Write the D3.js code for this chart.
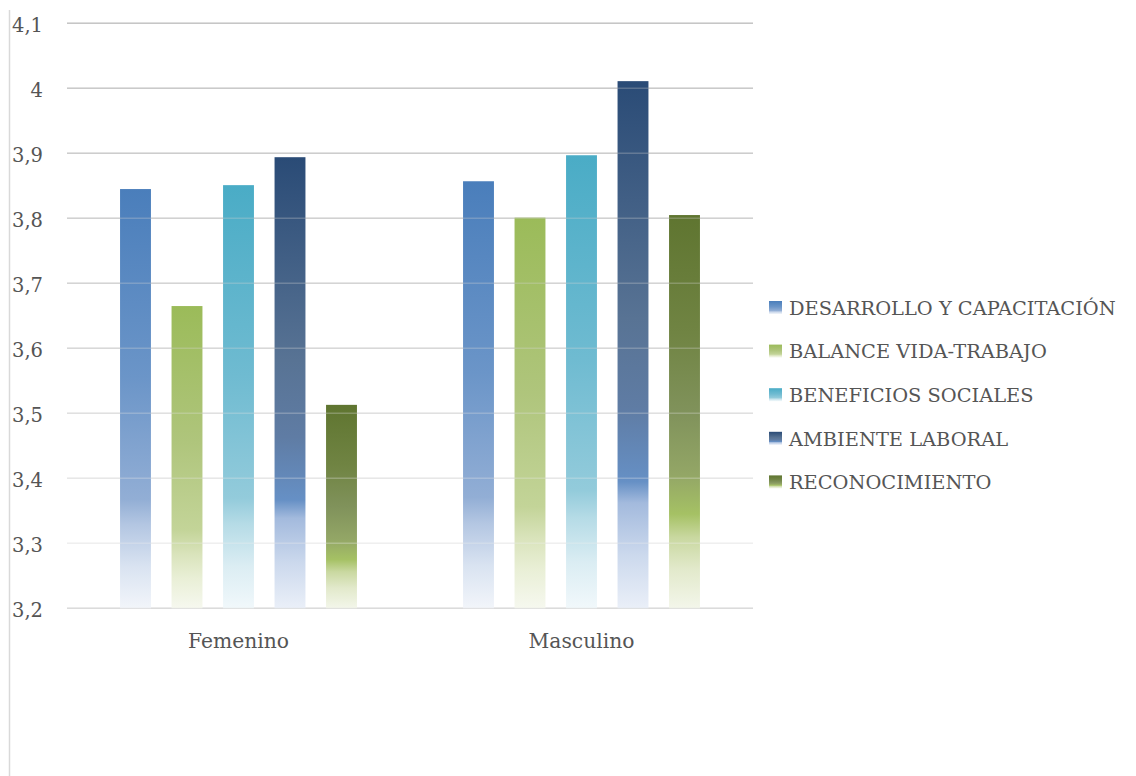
<!DOCTYPE html>
<html>
<head>
<meta charset="utf-8">
<script src="https://cdn.jsdelivr.net/npm/d3@7"></script>
<style>
  html, body { margin: 0; padding: 0; background: #ffffff; }
  svg { display: block; }
  text { font-family: "DejaVu Serif", "Liberation Serif", serif; fill: #555555; }
</style>
</head>
<body>
<svg id="chart" width="1136" height="776"></svg>
<script>
// Survey scores by gender for each work-climate dimension
const groups = ["Femenino", "Masculino"];
const seriesNames = [
  "DESARROLLO Y CAPACITACIÓN",
  "BALANCE VIDA-TRABAJO",
  "BENEFICIOS SOCIALES",
  "AMBIENTE LABORAL",
  "RECONOCIMIENTO"
];
const femeninoValues  = [3.845, 3.665, 3.851, 3.894, 3.513];
const masculinoValues = [3.857, 3.801, 3.897, 4.011, 3.805];
const yTicks = [3.2, 3.3, 3.4, 3.5, 3.6, 3.7, 3.8, 3.9, 4.0, 4.1];

// Gradient stops per series: [offset, colour], from bar top to bar base
const seriesGradients = [
  [[0, "#4a7ebb"], [0.45, "#6b95c8"], [0.74, "#92aed5"], [0.8, "#b3c6e2"], [0.9, "#d9e3f1"], [1, "#f2f5fa"]],
  [[0, "#9bbb59"], [0.45, "#afc57c"], [0.74, "#c3d498"], [0.82, "#d9e3bb"], [0.9, "#e9efd6"], [1, "#f6f8ef"]],
  [[0, "#4aacc6"], [0.45, "#6fbbd1"], [0.74, "#93cbdb"], [0.8, "#b5dbe6"], [0.9, "#dbedf3"], [1, "#f1f8fb"]],
  [[0, "#2a4b76"], [0.45, "#587394"], [0.62, "#5f7ca4"], [0.76, "#6690c5"], [0.8, "#a3badd"], [0.9, "#ccd9ed"], [1, "#eaeff8"]],
  [[0, "#5f7530"], [0.3, "#708443"], [0.5, "#80925b"], [0.66, "#93a666"], [0.76, "#a5c164"], [0.82, "#c9d8a0"], [0.9, "#e2e9cb"], [1, "#f3f6ea"]]
];

const rows = [femeninoValues, masculinoValues];
const data = groups.map((g, gi) => ({
  group: g,
  values: seriesNames.map((s, si) => ({ series: si, value: rows[gi][si] }))
}));

const svg = d3.select("#chart");
const plot = { left: 67, right: 753, top: 23.3, bottom: 608.3 };

const locale = d3.formatLocale({ decimal: ",", thousands: ".", grouping: [3], currency: ["", " €"] });
const fmt = locale.format(".1~f");

const y = d3.scaleLinear().domain([3.2, 4.1]).range([plot.bottom, plot.top]);
const x0 = d3.scaleBand().domain(groups).range([plot.left, plot.right]).padding(0);
const x1 = d3.scaleBand().domain(d3.range(seriesNames.length))
  .range([0, x0.bandwidth()]).paddingInner(0.4).paddingOuter(1.03);

// Gradient definitions for bars and legend swatches
const defs = svg.append("defs");
seriesGradients.forEach((stops, i) => {
  const lg = defs.append("linearGradient")
    .attr("id", "grad" + i).attr("x1", 0).attr("y1", 0).attr("x2", 0).attr("y2", 1);
  stops.forEach(([o, c]) => lg.append("stop").attr("offset", o).attr("stop-color", c));
});

// Outer chart border on the left edge
svg.append("line")
  .attr("x1", 9.5).attr("x2", 9.5).attr("y1", 10).attr("y2", 776)
  .attr("stroke", "#d9d9d9").attr("stroke-width", 1.5);

// Gridlines lighten toward the base
const gridColor = d3.scaleLinear().domain([3.3, 3.6, 4.1]).range(["#efefef", "#d8d8d8", "#c6c6c6"]);
const lineColor = v => (v <= 3.2001 ? "#dcdcdc" : gridColor(v));

function drawGrid(layer, opacity) {
  layer.selectAll("line")
    .data(yTicks)
    .join("line")
    .attr("x1", plot.left).attr("x2", plot.right)
    .attr("y1", d => y(d)).attr("y2", d => y(d))
    .attr("stroke", d => lineColor(d))
    .attr("stroke-width", 1.6)
    .attr("stroke-opacity", opacity);
}
drawGrid(svg.append("g"), 1);

// Bars
const groupSel = svg.append("g").selectAll("g")
  .data(data)
  .join("g")
  .attr("transform", d => `translate(${x0(d.group)},0)`);

groupSel.selectAll("rect")
  .data(d => d.values)
  .join("rect")
  .attr("x", d => x1(d.series))
  .attr("width", x1.bandwidth())
  .attr("y", d => y(d.value))
  .attr("height", d => y(3.2) - y(d.value))
  .attr("fill", d => `url(#grad${d.series})`);

// Gridlines faintly visible across the bars
drawGrid(svg.append("g"), 0.3);

// Y-axis tick labels
svg.append("g").selectAll("text")
  .data(yTicks)
  .join("text")
  .attr("x", 43)
  .attr("y", d => y(d))
  .attr("dy", "0.44em")
  .attr("text-anchor", "end")
  .attr("font-size", 19.5)
  .text(d => fmt(d));

// Category labels
svg.append("g").selectAll("text")
  .data(groups)
  .join("text")
  .attr("x", d => x0(d) + x0.bandwidth() / 2)
  .attr("y", 648)
  .attr("text-anchor", "middle")
  .attr("font-size", 20.3)
  .text(d => d);

// Legend
const legend = svg.append("g").selectAll("g")
  .data(seriesNames)
  .join("g")
  .attr("transform", (d, i) => `translate(769,${307.5 + i * 43.6})`);

legend.append("rect")
  .attr("x", 0).attr("y", -6.5)
  .attr("width", 13).attr("height", 13)
  .attr("fill", (d, i) => `url(#grad${i})`);

legend.append("text")
  .attr("x", 20)
  .attr("y", 0)
  .attr("dy", "0.38em")
  .attr("font-size", 19.4)
  .text(d => d);
</script>
</body>
</html>
